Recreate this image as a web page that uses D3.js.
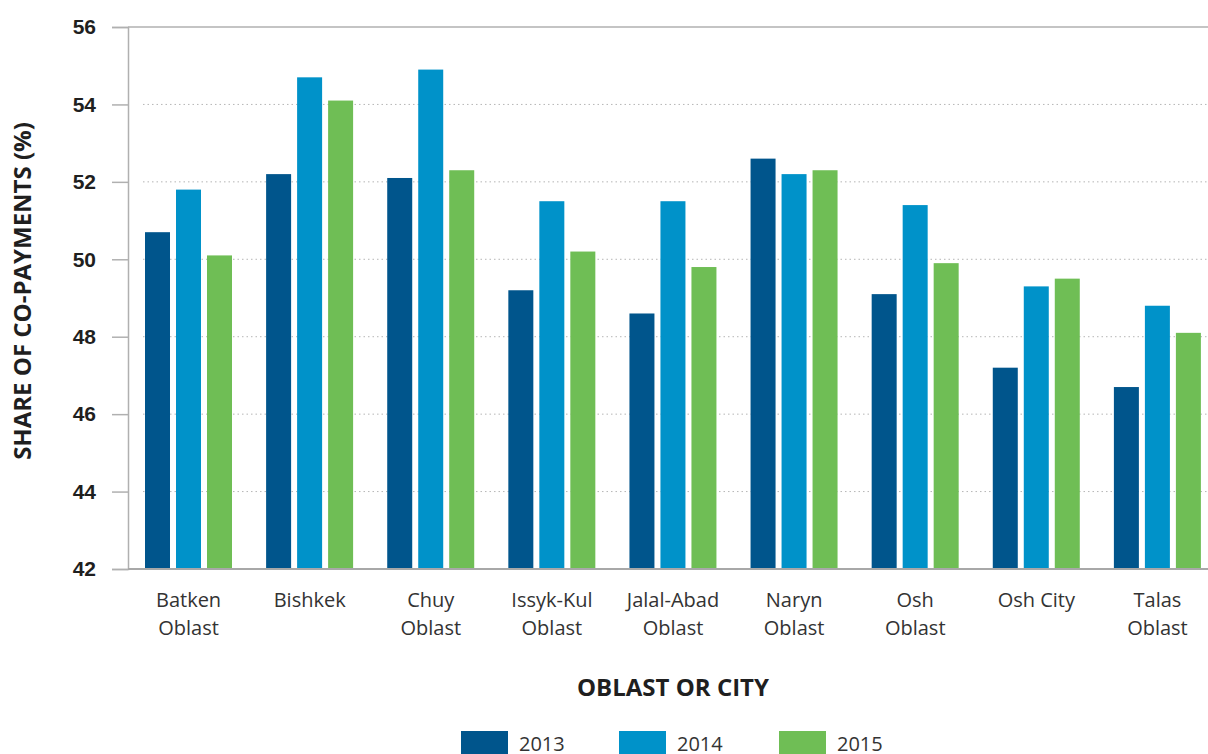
<!DOCTYPE html>
<html>
<head>
<meta charset="utf-8">
<script src="https://cdn.jsdelivr.net/npm/d3@7"></script>
<style>
  body { margin: 0; background: #fff; }
  svg { display: block; font-family: "Open Sans", "Noto Sans", sans-serif; }
</style>
</head>
<body>
<svg id="chart" width="1208" height="754"></svg>
<script>
const regions = [
    ["Batken", "Oblast"], ["Bishkek"], ["Chuy", "Oblast"], ["Issyk-Kul", "Oblast"],
    ["Jalal-Abad", "Oblast"], ["Naryn", "Oblast"], ["Osh", "Oblast"], ["Osh City"], ["Talas", "Oblast"]
];
const years = ["2013", "2014", "2015"];
const values2013 = [50.7, 52.2, 52.1, 49.2, 48.6, 52.6, 49.1, 47.2, 46.7];
const values2014 = [51.8, 54.7, 54.9, 51.5, 51.5, 52.2, 51.4, 49.3, 48.8];
const values2015 = [50.1, 54.1, 52.3, 50.2, 49.8, 52.3, 49.9, 49.5, 48.1];
const yTicks = [42, 44, 46, 48, 50, 52, 54, 56];
const colors = ["#00558c", "#0092c9", "#6fbe55"];

const series = [values2013, values2014, values2015];
const svg = d3.select("#chart");

const x0 = d3.scaleBand()
    .domain(regions.map((d, i) => i))
    .range([128, 1218])
    .paddingInner(0)
    .paddingOuter(0);
const x1 = d3.scaleBand()
    .domain(years)
    .range([17, 104])
    .paddingInner(6 / 31)
    .paddingOuter(0);
const y = d3.scaleLinear().domain([42, 56]).range([569, 27]);

// dotted gridlines
svg.append("g")
    .selectAll("line")
    .data(yTicks.filter((t) => t !== 42 && t !== 56))
    .enter()
    .append("line")
    .attr("x1", 143)
    .attr("x2", 1208)
    .attr("y1", (d) => y(d))
    .attr("y2", (d) => y(d))
    .attr("stroke", "#b5b5b5")
    .attr("stroke-width", 1)
    .attr("stroke-dasharray", "1.5,3");

// bars
const groups = svg.append("g")
    .selectAll("g")
    .data(regions.map((d, i) => i))
    .enter()
    .append("g")
    .attr("transform", (i) => `translate(${x0(i)},0)`);
groups.selectAll("rect")
    .data((i) => years.map((yr, k) => ({ yr, k, v: series[k][i] })))
    .enter()
    .append("rect")
    .attr("x", (d) => x1(d.yr))
    .attr("width", x1.bandwidth())
    .attr("y", (d) => y(d.v))
    .attr("height", (d) => y(42) - y(d.v))
    .attr("fill", (d) => colors[d.k]);

// y axis
const yAxis = svg.append("g")
    .attr("transform", "translate(128,0)")
    .call(d3.axisLeft(y).tickValues(yTicks).tickSize(16).tickPadding(16));
yAxis.select(".domain").attr("stroke", "#b0b0b0").attr("stroke-width", 1.5);
yAxis.selectAll(".tick line").attr("stroke", "#b0b0b0").attr("stroke-width", 1.5);
yAxis.selectAll(".tick text")
    .attr("fill", "#1f1f1f")
    .style("font-size", "21px")
    .style("font-weight", "bold");

// top and bottom lines
svg.append("line")
    .attr("x1", 128).attr("x2", 1208)
    .attr("y1", y(56)).attr("y2", y(56))
    .attr("stroke", "#b0b0b0").attr("stroke-width", 1.5);
svg.append("line")
    .attr("x1", 128).attr("x2", 1208)
    .attr("y1", y(42)).attr("y2", y(42))
    .attr("stroke", "#a8a8a8").attr("stroke-width", 2);

// x category labels
const xLabels = svg.append("g")
    .selectAll("text")
    .data(regions)
    .enter()
    .append("text")
    .attr("x", (d, i) => x0(i) + x0.bandwidth() / 2)
    .attr("y", 607)
    .attr("text-anchor", "middle")
    .attr("fill", "#333")
    .style("font-size", "20px");
xLabels.selectAll("tspan")
    .data((d) => d)
    .enter()
    .append("tspan")
    .attr("x", function () { return this.parentNode.getAttribute("x"); })
    .attr("dy", (d, i) => (i === 0 ? 0 : 28))
    .text((d) => d);

// axis titles
svg.append("text")
    .attr("transform", "translate(31,291) rotate(-90)")
    .attr("text-anchor", "middle")
    .attr("fill", "#1f1f1f")
    .style("font-size", "24px")
    .style("font-weight", "bold")
    .text("SHARE OF CO-PAYMENTS (%)");
svg.append("text")
    .attr("x", 673)
    .attr("y", 696)
    .attr("text-anchor", "middle")
    .attr("fill", "#1f1f1f")
    .style("font-size", "24px")
    .style("font-weight", "bold")
    .text("OBLAST OR CITY");

// legend
const legendX = [461, 619, 779];
const legend = svg.append("g")
    .selectAll("g")
    .data(years)
    .enter()
    .append("g")
    .attr("transform", (d, i) => `translate(${legendX[i]},731)`);
legend.append("rect")
    .attr("width", 47)
    .attr("height", 24)
    .attr("fill", (d, i) => colors[i]);
legend.append("text")
    .attr("x", 58)
    .attr("y", 20)
    .attr("fill", "#333")
    .style("font-size", "20px")
    .text((d) => d);
</script>
</body>
</html>
